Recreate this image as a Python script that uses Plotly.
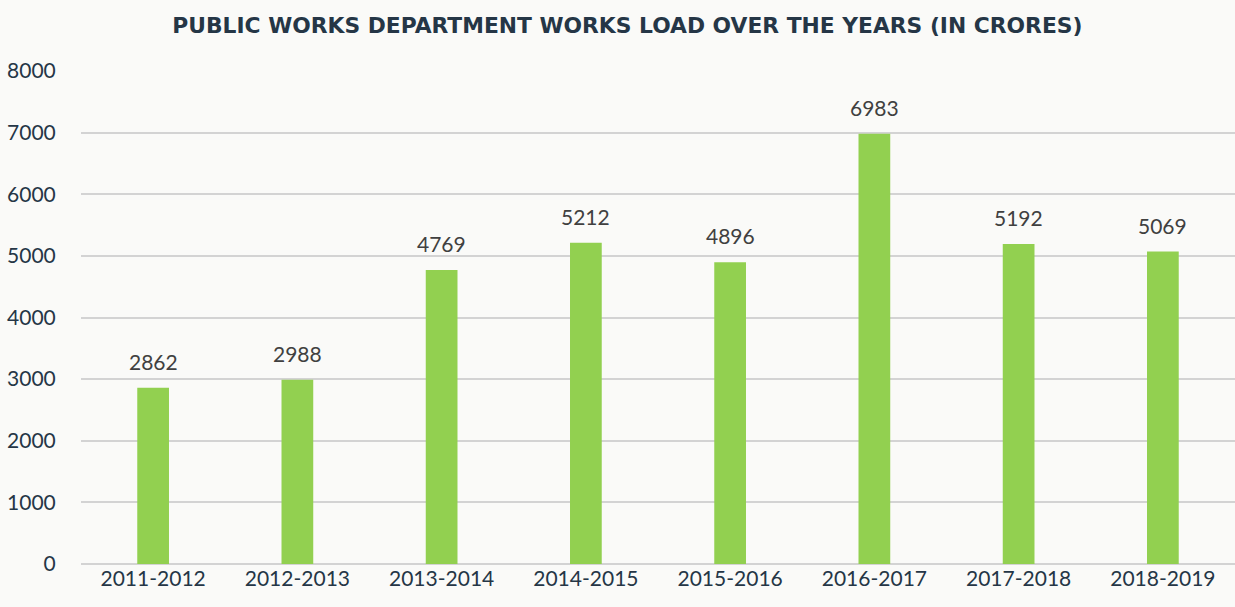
import plotly.graph_objects as go

years = ["2011-2012", "2012-2013", "2013-2014", "2014-2015",
         "2015-2016", "2016-2017", "2017-2018", "2018-2019"]
works_load = [2862, 2988, 4769, 5212, 4896, 6983, 5192, 5069]
y_ticks = [0, 1000, 2000, 3000, 4000, 5000, 6000, 7000, 8000]

fig = go.Figure()
fig.add_trace(go.Bar(
    x=years, y=works_load,
    marker=dict(color="#92d050", line=dict(width=0)),
    cliponaxis=False,
))

for yr, v in zip(years, works_load):
    fig.add_annotation(
        x=yr, y=v, text=str(v), showarrow=False,
        yanchor="bottom", yshift=12,
        font=dict(family="Lato", size=21, color="#404040"),
    )

fig.update_layout(
    width=1235, height=607,
    paper_bgcolor="#fafaf8",
    plot_bgcolor="rgba(0,0,0,0)",
    margin=dict(l=81, r=0, t=71, b=43),
    bargap=0.78,
    showlegend=False,
    title=dict(
        text="<b>PUBLIC WORKS DEPARTMENT WORKS LOAD OVER THE YEARS (IN CRORES)</b>",
        x=0.508, xanchor="center", y=0.959, yanchor="middle",
        font=dict(family="DejaVu Sans", size=21.8, color="#253646"),
    ),
    font=dict(family="Lato", size=21, color="#253646"),
)
fig.update_xaxes(
    showgrid=False, showline=False, ticks="",
    tickfont=dict(family="Lato", size=21, color="#253646"),
)
fig.update_yaxes(
    range=[0, 8000], tickvals=y_ticks,
    showgrid=True, gridcolor="#d3d3d3", gridwidth=1.5,
    zeroline=True, zerolinecolor="#d3d3d3", zerolinewidth=1.5,
    ticks="outside", ticklen=20, tickcolor="rgba(0,0,0,0)",
    tickfont=dict(family="Lato", size=21, color="#253646"),
)

fig.write_html("out.html", config={"displayModeBar": False},
               post_script="document.body.style.margin='0';document.body.style.overflow='hidden';")
